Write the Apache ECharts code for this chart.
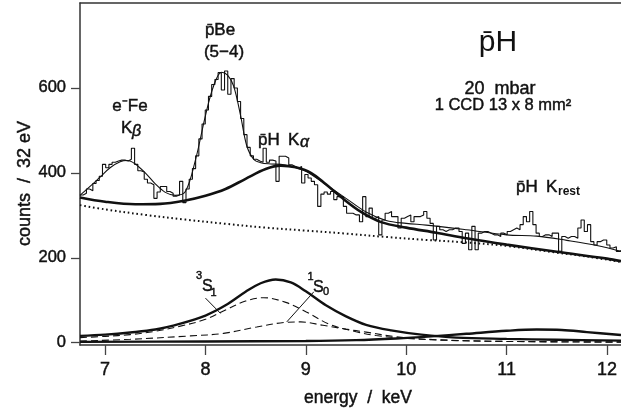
<!DOCTYPE html>
<html>
<head>
<meta charset="utf-8">
<script src="https://cdn.jsdelivr.net/npm/echarts@6/dist/echarts.min.js"></script>
<style>
  html, body { margin: 0; padding: 0; background: #fff; }
  #chart { width: 621px; height: 414px; }
</style>
</head>
<body>
<div id="chart"></div>
<script>
// ---- spectrum: 32 eV bins starting at 6.75 keV ----
const binStart = 6.75;
const binWidth = 0.032;
const counts = [
  348, 352, 362, 358, 375, 382, 392, 420, 412, 420, 425, 428, 430, 430, 428, 432, 458, 420, 405, 402,
  385, 376, 372, 340, 355, 368, 368, 356, 352, 345, 348, 380, 330,
  362, 385, 410, 440, 480, 515, 548, 580, 608, 620, 636, 595, 640, 585, 622, 600, 568, 528, 490, 460,
  440, 432, 428, 425, 458, 425, 430, 428, 380,
  439, 439, 435, 419, 415, 411, 415, 376, 396, 388, 380, 372, 321, 350, 355, 350, 356, 337, 344, 344,
  321, 305, 305, 301, 301, 285, 344, 297, 317, 293, 297, 254, 289, 305, 309,
  297, 297, 270, 293, 297, 301, 285, 297, 297, 301, 309, 293, 281, 242, 274, 266, 262, 266, 266, 270,
  270, 262, 234, 258, 219, 274, 219, 258, 262, 262, 258, 254, 254, 250, 258, 254,
  262, 266, 270, 266, 278, 297, 285, 309, 278, 258, 250, 254, 254, 250, 258, 258, 215, 250, 246, 250,
  250, 246, 270, 289, 262, 278, 238, 230, 238, 242, 242, 230, 223, 226, 215, 219
];

// ---- total fit (thin line) ----
const fitE = [6.75, 6.85, 6.95, 7.05, 7.15, 7.22, 7.3, 7.4, 7.5, 7.6, 7.7, 7.8, 7.9, 8.0, 8.08, 8.16,
  8.22, 8.28, 8.35, 8.41, 8.48, 8.55, 8.65, 8.75, 8.85, 9.0, 9.2, 9.4, 9.6, 9.8, 10.0, 10.2, 10.6,
  11.0, 11.3, 11.6, 11.9, 12.14];
const fitTotal = [347, 368, 390, 412, 426, 429, 421, 400, 374, 354, 347, 356, 430, 535, 604, 637,
  630, 605, 535, 465, 432, 424, 421, 420, 415, 404, 372, 340, 308, 288, 281, 277, 266,
  254, 251, 241, 229, 215];

// ---- pH K-alpha on top of background (thick line) ----
const kaBgE = [6.75, 7.0, 7.3, 7.55, 7.8, 8.0, 8.2, 8.4, 8.6, 8.75, 8.9, 9.05, 9.2, 9.35,
  9.55, 9.75, 10.0, 10.3, 10.6, 11.0, 11.5, 12.0, 12.14];
const kaBg = [342, 332, 326, 327, 335, 346, 362, 386, 409, 417, 413, 400, 373, 343,
  308, 284, 271, 259, 246, 231, 214, 198, 192];

// ---- background (dotted) ----
const bgE = [6.75, 7.0, 7.4, 7.8, 8.2, 8.6, 9.0, 9.4, 9.8, 10.2, 10.6, 11.0, 11.5, 11.8, 12.14];
const bg = [324, 314, 301, 290, 280, 271, 264, 257, 249, 242, 236, 228, 212, 203, 190];

// ---- K-alpha components ----
const kaE = [6.75, 7.0, 7.25, 7.5, 7.75, 8.0, 8.2, 8.4, 8.55, 8.7, 8.85, 9.0, 9.2, 9.4, 9.6,
  9.85, 10.15, 10.5, 11.0, 11.5, 12.14];
const kaSum = [16, 19, 24, 31, 45, 64, 88, 120, 140, 149, 142, 121, 88, 62, 42,
  29, 19, 12, 9, 7, 5];

const s1E = [6.75, 7.0, 7.25, 7.5, 7.75, 8.0, 8.2, 8.4, 8.58, 8.8, 9.0, 9.24, 9.5, 9.7, 10.0,
  10.5, 11.0, 12.14];
const s1 = [12, 15, 19, 27, 39, 55, 77, 98, 106, 95, 73, 43, 26, 17, 10, 5, 3, 2];

const s0E = [6.75, 7.25, 7.85, 8.18, 8.51, 8.8, 8.95, 9.17, 9.4, 9.6, 9.9, 10.3, 11.0, 12.14];
const s0 = [4, 8, 16, 22, 37, 48, 49, 41, 32, 25, 14, 7, 3, 1];

// ---- remaining pH K lines ----
const restE = [6.75, 8.0, 9.0, 9.5, 9.9, 10.25, 10.6, 11.0, 11.3, 11.55, 11.8, 12.14];
const rest = [2, 3, 4, 6, 10, 15, 21, 28, 31, 30, 25, 18];

// ---- label pointers (data units) ----
const pointer3S1 = [[8.0, 105], [8.15, 69]];
const pointer1S0 = [[9.08, 120], [8.81, 49]];

// ---- axis ticks ----
const xTicks = [7, 8, 9, 10, 11, 12];
const yTicks = [0, 200, 400, 600];

const zip = (xs, ys) => xs.map((x, i) => [x, ys[i]]);

// histogram as a step line: one point per bin edge
const histPoints = counts.map((c, i) => [binStart + i * binWidth, c]);
histPoints.push([binStart + counts.length * binWidth, counts[counts.length - 1]]);

const INK = '#111';
const FONT = "'Liberation Sans', Arial, Helvetica, sans-serif";

function curve(points, width, type, z) {
  return {
    type: 'line', data: points, showSymbol: false, symbol: 'none',
    smooth: 0.35, z: z || 3, silent: true,
    lineStyle: { color: INK, width: width, type: type || 'solid' }
  };
}

// text helper: x, baseline in pixels
function txt(text, x, baseline, size, extra) {
  extra = extra || {};
  const heavy = extra.heavy === undefined ? 0.45 : extra.heavy;
  return {
    type: 'text', x: x, y: baseline - 0.35 * size, silent: true, z: 100,
    rotation: extra.rotation || 0,
    style: {
      text: text, fill: INK,
      stroke: heavy > 0 ? INK : null, lineWidth: heavy,
      font: (extra.style || 'normal') + ' ' + (extra.weight || 'normal') + ' ' + size + 'px ' + FONT,
      align: extra.align || 'left', verticalAlign: 'middle'
    }
  };
}

const chart = echarts.init(document.getElementById('chart'), null, { renderer: 'canvas' });

const axisLineStyle = { color: '#333', width: 1.5 };
const tickLabel = { color: INK, fontFamily: FONT, textBorderColor: INK, textBorderWidth: 0.45 };

chart.setOption({
  animation: false,
  backgroundColor: '#fff',
  grid: { left: 80, right: 0, top: 3, bottom: 69, containLabel: false },
  xAxis: [{
    type: 'value', min: 6.75, max: 12.14, position: 'bottom',
    axisLine: { show: true, onZero: false, lineStyle: axisLineStyle },
    axisTick: { show: true, inside: false, length: 10, customValues: xTicks, lineStyle: { color: '#444', width: 1.3 } },
    axisLabel: Object.assign({ show: true, customValues: xTicks, margin: 16, fontSize: 18 }, tickLabel),
    splitLine: { show: false }
  }, {
    type: 'value', min: 6.75, max: 12.14, position: 'top',
    axisLine: { show: true, onZero: false, lineStyle: axisLineStyle },
    axisTick: { show: false }, axisLabel: { show: false }, splitLine: { show: false }
  }],
  yAxis: {
    type: 'value', min: -5.4, max: 800,
    axisLine: { show: true, onZero: false, lineStyle: axisLineStyle },
    axisTick: { show: true, inside: false, length: 9, customValues: yTicks, lineStyle: { color: '#444', width: 1.3 } },
    axisLabel: Object.assign({ show: true, customValues: yTicks, margin: 14, fontSize: 16.5 }, tickLabel),
    splitLine: { show: false }
  },
  series: [
    {
      type: 'line', data: histPoints, step: 'end', showSymbol: false, symbol: 'none', z: 2, silent: true,
      lineStyle: { color: INK, width: 1.1 }
    },
    curve(zip(fitE, fitTotal), 1.1, 'solid', 3),
    curve(zip(bgE, bg), 2, [1.6, 2.8], 3),
    curve(zip(kaBgE, kaBg), 2.6, 'solid', 4),
    curve(zip(kaE, kaSum), 2.4, 'solid', 4),
    curve(zip(s1E, s1), 1.1, [7, 4], 3),
    curve(zip(s0E, s0), 1.1, [7, 4], 3),
    curve(zip(restE, rest), 2.4, 'solid', 4),
    { type: 'line', data: pointer3S1, showSymbol: false, symbol: 'none', silent: true, z: 5,
      lineStyle: { color: INK, width: 1 } },
    { type: 'line', data: pointer1S0, showSymbol: false, symbol: 'none', silent: true, z: 5,
      lineStyle: { color: INK, width: 1 } }
  ],
  graphic: [
    // axis titles
    txt('counts  /  32 eV', 25, 183.5 + 0.35 * 18, 18, { align: 'center', rotation: Math.PI / 2 }),
    txt('energy  /  keV', 358, 404, 17.5, { align: 'center' }),
    // target
    txt('p\u0304H', 498, 53, 30, { align: 'center', heavy: 0 }),
    txt('20  mbar', 500, 95, 18, { align: 'center' }),
    txt('1 CCD 13 x 8 mm\u00B2', 503, 111.5, 16.5, { align: 'center' }),
    // peaks
    txt('e\u207BFe', 130, 112, 17, { align: 'center' }),
    txt('K', 121, 134, 17),
    txt('\u03B2', 132, 137, 16, { style: 'italic' }),
    txt('p\u0304Be', 220, 36, 17, { align: 'center' }),
    txt('(5\u22124)', 224, 58, 17, { align: 'center' }),
    txt('p\u0304H', 258, 146, 17),
    txt('K', 288, 146, 17),
    txt('\u03B1', 300, 148, 16, { style: 'italic' }),
    txt('p\u0304H', 516, 193, 17),
    txt('K', 546, 193, 17),
    txt('rest', 558, 196, 12, { weight: 'bold', heavy: 0 }),
    // components
    txt('3', 196, 280, 11),
    txt('S', 202, 292, 16),
    txt('1', 210.5, 297, 11),
    txt('1', 307.5, 280.5, 11),
    txt('S', 313, 293, 16),
    txt('0', 323, 296, 11)
  ]
});
</script>
</body>
</html>
